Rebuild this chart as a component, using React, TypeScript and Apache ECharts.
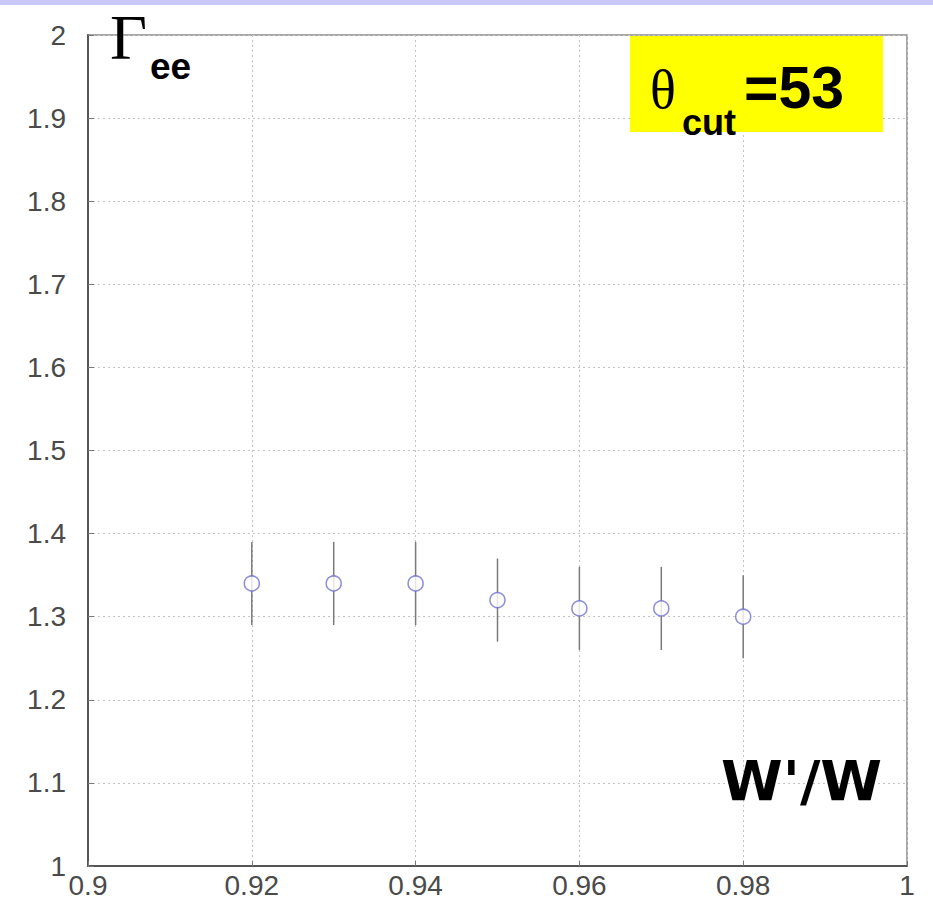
import React, { useEffect, useRef } from "react";
import * as echarts from "echarts";

const xValues = [0.92, 0.93, 0.94, 0.95, 0.96, 0.97, 0.98];
const yValues = [1.34, 1.34, 1.34, 1.32, 1.31, 1.31, 1.30];
const errLow = [1.29, 1.29, 1.29, 1.27, 1.26, 1.26, 1.25];
const errHigh = [1.39, 1.39, 1.39, 1.37, 1.36, 1.36, 1.35];
const xTicks = [0.9, 0.92, 0.94, 0.96, 0.98, 1];
const yTicks = [1, 1.1, 1.2, 1.3, 1.4, 1.5, 1.6, 1.7, 1.8, 1.9, 2];

export default function App() {
  const ref = useRef<HTMLDivElement>(null);
  useEffect(() => {
    document.body.style.margin = "0";
    const chart = echarts.init(ref.current!, null, { renderer: "svg" });
    const points = xValues.map((x, i) => [x, yValues[i]]);
    const errs = xValues.map((x, i) => [x, errLow[i], errHigh[i]]);
    const labelFont = "Liberation Sans, Arial, sans-serif";
    const option: any = {
      animation: false,
      backgroundColor: "#ffffff",
      grid: {
        left: 88,
        right: 26,
        top: 35,
        bottom: 44,
        show: true,
        borderColor: "#8a8a8a",
        borderWidth: 1.5,
      },
      xAxis: {
        type: "value",
        min: 0.9,
        max: 1,
        interval: 0.02,
        axisLine: { show: true, lineStyle: { color: "#555", width: 2 } },
        axisTick: { show: true, inside: true, length: 5, lineStyle: { color: "#777" } },
        splitLine: { show: true, lineStyle: { color: "#c4c4c4", type: [2, 3], width: 1 } },
        axisLabel: {
          color: "#4a4a4a",
          fontSize: 28,
          fontFamily: labelFont,
          margin: 5,
          formatter: (v: number) => {
            const t = xTicks.find((k) => Math.abs(k - v) < 1e-9);
            return t === undefined ? "" : String(t);
          },
        },
      },
      yAxis: {
        type: "value",
        min: 1,
        max: 2,
        interval: 0.1,
        axisLine: { show: true, lineStyle: { color: "#555", width: 2 } },
        axisTick: { show: true, inside: true, length: 6, lineStyle: { color: "#777" } },
        splitLine: { show: true, lineStyle: { color: "#c4c4c4", type: [2, 3], width: 1 } },
        axisLabel: {
          color: "#4a4a4a",
          fontSize: 28,
          fontFamily: labelFont,
          margin: 22,
          formatter: (v: number) => {
            const t = yTicks.find((k) => Math.abs(k - v) < 1e-9);
            return t === undefined ? "" : String(t);
          },
        },
      },
      series: [
        {
          type: "custom",
          data: errs,
          renderItem: (params: any, api: any) => {
            const x = api.value(0);
            const p1 = api.coord([x, api.value(1)]);
            const p2 = api.coord([x, api.value(2)]);
            return {
              type: "line",
              shape: { x1: p1[0], y1: p1[1], x2: p2[0], y2: p2[1] },
              style: { stroke: "#7a7a7a", lineWidth: 1.5 },
            };
          },
          z: 2,
        },
        {
          type: "scatter",
          data: points,
          symbol: "circle",
          symbolSize: 15,
          itemStyle: { color: "#ffffff", borderColor: "#7070d0", borderWidth: 1.5 },
          z: 3,
        },
      ],
      graphic: [
        {
          type: "rect",
          left: 0,
          top: 0,
          shape: { width: 933, height: 5 },
          style: { fill: "#c8c8fa" },
        },
        {
          type: "text",
          x: 110,
          y: 5,
          style: {
            text: "\u0393",
            font: "64px 'Liberation Serif', 'Times New Roman', serif",
            fill: "#000",
          },
          z: 10,
        },
        {
          type: "text",
          x: 150,
          y: 48,
          style: {
            text: "ee",
            font: "bold 37px 'Liberation Sans', Arial, sans-serif",
            fill: "#000",
          },
          z: 10,
        },
        {
          type: "rect",
          x: 630,
          y: 36,
          shape: { width: 253, height: 96 },
          style: { fill: "#ffff00" },
          z: 10,
        },
        {
          type: "text",
          x: 650,
          y: 63,
          style: {
            text: "\u03b8",
            font: "54px 'Liberation Serif', 'Times New Roman', serif",
            fill: "#000",
          },
          z: 11,
        },
        {
          type: "text",
          x: 682,
          y: 104,
          style: {
            text: "cut",
            font: "bold 36px 'Liberation Sans', Arial, sans-serif",
            fill: "#000",
          },
          z: 11,
        },
        {
          type: "text",
          x: 744,
          y: 58,
          style: {
            text: "=53",
            font: "bold 59px 'Liberation Sans', Arial, sans-serif",
            fill: "#000",
          },
          z: 11,
        },
        {
          type: "text",
          x: 721,
          y: 752,
          style: {
            text: "W'/W",
            font: "bold 56px 'DejaVu Sans', sans-serif",
            fill: "#000",
          },
          z: 11,
        },
      ],
    };
    chart.setOption(option);
    return () => chart.dispose();
  }, []);
  return <div ref={ref} style={{ width: 933, height: 910 }} />;
}
